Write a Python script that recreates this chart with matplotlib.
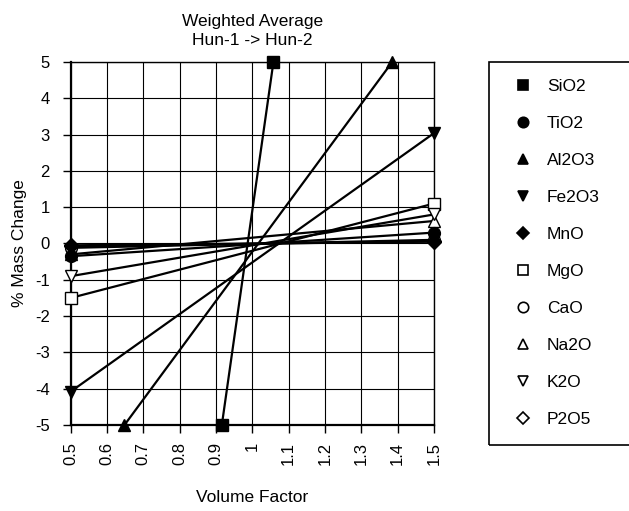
import numpy as np
import matplotlib.pyplot as plt
from matplotlib.patches import Rectangle

plt.rcParams['font.family'] = ['Liberation Sans', 'DejaVu Sans']

# mass change (%) against volume factor, Hun-1 -> Hun-2
sio2_x = [0.916, 1.058]
sio2_y = [-5.0, 5.0]
tio2_x = [0.5, 1.5]
tio2_y = [-0.35, 0.30]
al2o3_x = [0.648, 1.385]
al2o3_y = [-5.0, 5.0]
fe2o3_x = [0.5, 1.5]
fe2o3_y = [-4.08, 3.04]
mno_x = [0.5, 1.5]
mno_y = [-0.05, 0.05]
mgo_x = [0.5, 1.5]
mgo_y = [-1.50, 1.10]
cao_x = [0.5, 1.5]
cao_y = [-0.12, 0.10]
na2o_x = [0.5, 1.5]
na2o_y = [-0.30, 0.62]
k2o_x = [0.5, 1.5]
k2o_y = [-0.90, 0.80]
p2o5_x = [0.5, 1.5]
p2o5_y = [-0.08, 0.06]

series = [
    ("SiO2", sio2_x, sio2_y, 's', 'k'),
    ("TiO2", tio2_x, tio2_y, 'o', 'k'),
    ("Al2O3", al2o3_x, al2o3_y, '^', 'k'),
    ("Fe2O3", fe2o3_x, fe2o3_y, 'v', 'k'),
    ("MnO", mno_x, mno_y, 'D', 'k'),
    ("MgO", mgo_x, mgo_y, 's', 'w'),
    ("CaO", cao_x, cao_y, 'o', 'w'),
    ("Na2O", na2o_x, na2o_y, '^', 'w'),
    ("K2O", k2o_x, k2o_y, 'v', 'w'),
    ("P2O5", p2o5_x, p2o5_y, 'D', 'w'),
]

fig = plt.figure(figsize=(6.29, 5.11), dpi=100)
ax = fig.add_axes([0.1124, 0.1683, 0.5776, 0.7104])

handles = []
for name, xs, ys, mk, fc in series:
    ms = 7 if mk == 'D' else 8.5
    z = 4 if fc == 'k' else 3
    h, = ax.plot(xs, ys, color='k', lw=1.6, marker=mk, markersize=ms,
                 markerfacecolor=fc, markeredgecolor='k', markeredgewidth=1.0,
                 label=name, clip_on=False, zorder=z)
    handles.append(plt.Line2D([], [], ls='none', marker=mk, markersize=ms - 1,
                              markerfacecolor=fc, markeredgecolor='k',
                              markeredgewidth=1.2))

ax.set_xlim(0.5, 1.5)
ax.set_ylim(-5, 5)
xt = np.round(np.arange(0.5, 1.51, 0.1), 1)
ax.set_xticks(xt)
ax.set_xticklabels(['%g' % v for v in xt], rotation=90, fontsize=12)
ax.set_yticks(range(-5, 6))
ax.set_yticklabels([str(v) for v in range(-5, 6)], fontsize=12)
ax.grid(True, color='k', lw=0.8)
ax.tick_params(axis='x', direction='out', length=6, width=1, pad=6)
ax.tick_params(axis='y', direction='out', length=6, width=1, pad=9)
for s in ['left', 'bottom']:
    ax.spines[s].set_linewidth(1.6)
for s in ['top', 'right']:
    ax.spines[s].set_linewidth(1.0)

ax.set_title("Weighted Average\nHun-1 -> Hun-2", fontsize=12.5, pad=12,
             linespacing=1.4)
ax.set_xlabel("Volume Factor", fontsize=12.5, labelpad=18)
ax.set_ylabel("% Mass Change", fontsize=12.5, labelpad=6)

# legend box runs off the right edge of the figure
x0, y0, y1 = 489 / 629, 1 - 445 / 511, 1 - 62 / 511
fig.patches.append(Rectangle((x0, y0), 1.1 - x0, y1 - y0, transform=fig.transFigure,
                             fill=False, edgecolor='k', lw=1.2, clip_on=False))
leg = fig.legend(handles, [s[0] for s in series], loc='upper left',
                 bbox_to_anchor=(x0, y1), borderaxespad=0,
                 fontsize=12.5, frameon=False, labelspacing=1.26,
                 handletextpad=0.4, borderpad=0.98, handlelength=1.95)

fig.savefig("out.png", dpi=100)
